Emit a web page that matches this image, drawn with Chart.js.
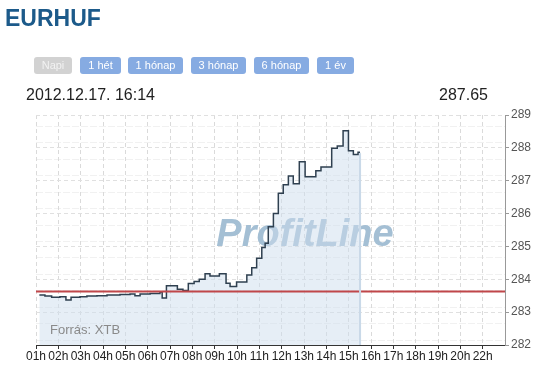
<!DOCTYPE html>
<html>
<head>
<meta charset="utf-8">
<script src="https://cdn.jsdelivr.net/npm/chart.js@4.4.1/dist/chart.umd.min.js"></script>
<style>
  html, body { margin: 0; padding: 0; background: #fff; width: 540px; height: 374px; overflow: hidden; font-family: "Liberation Sans", Arial, sans-serif; }
  #wrap { position: relative; width: 540px; height: 374px; }
  canvas { position: absolute; left: 0; top: 0; }
  .title { position: absolute; left: 5px; top: 5px; font-size: 23px; font-weight: bold; color: #1c5a8a; }
  .btn { position: absolute; top: 57px; height: 17px; line-height: 17px; font-size: 11px; color: #fff; text-align: center; border-radius: 3px; background: #86abe2; }
  .btn.off { background: #d2d2d2; color: #f2f2f2; }
  .date { position: absolute; left: 26px; top: 86px; font-size: 16px; color: #222; }
  .price { position: absolute; right: 52px; top: 86px; font-size: 16px; color: #222; }
  .src { position: absolute; left: 50px; top: 322px; font-size: 13px; color: #8a8a8a; }
</style>
</head>
<body>
<div id="wrap">
  <canvas id="c" width="540" height="374"></canvas>
  <div class="title">EURHUF</div>
  <div class="btn off" style="left:34px;width:38px;">Napi</div>
  <div class="btn" style="left:80px;width:41px;">1 hét</div>
  <div class="btn" style="left:128px;width:55px;">1 hónap</div>
  <div class="btn" style="left:191px;width:55px;">3 hónap</div>
  <div class="btn" style="left:254px;width:55px;">6 hónap</div>
  <div class="btn" style="left:317px;width:37px;">1 év</div>
  <div class="date">2012.12.17. 16:14</div>
  <div class="price">287.65</div>
  <div class="src">Forrás: XTB</div>
</div>
<script>
// ---- data ----
const hourLabels = ['01h','02h','03h','04h','05h','06h','07h','08h','09h','10h','11h','12h','13h','14h','15h','16h','17h','18h','19h','20h','22h'];
// time position in hours counted from the 01h tick
const hours = [0.15,0.40,0.70,1.07,1.34,1.57,1.97,2.28,2.73,3.18,3.76,4.21,4.43,4.66,5.11,5.55,5.65,5.84,6.33,6.58,6.82,7.08,7.31,7.57,7.79,8.21,8.51,8.69,8.98,9.44,9.66,9.88,10.11,10.26,10.40,10.63,10.85,11.07,11.30,11.52,11.79,12.05,12.53,12.76,13.24,13.49,13.75,13.99,14.21,14.42,14.51];
const rates = [283.52,283.49,283.45,283.47,283.37,283.45,283.47,283.49,283.50,283.52,283.54,283.55,283.50,283.55,283.57,283.61,283.43,283.80,283.70,283.66,283.87,283.93,284.00,284.17,284.10,284.17,283.88,283.78,283.92,284.13,284.35,284.64,284.97,285.10,285.60,286.00,286.62,286.88,287.14,286.91,287.58,287.12,287.30,287.42,287.99,288.06,288.52,287.91,287.80,287.87,287.87];
const prevClose = 283.63;
const yMin = 282, yMax = 289;

const pts = hours.map((h, i) => ({ x: h, y: rates[i] }));

const decor = {
  id: 'decor',
  beforeDraw(chart) {
    // faint textured rows of the plot background
    const { ctx, chartArea: a } = chart;
    ctx.save();
    ctx.strokeStyle = '#f1f1f1';
    ctx.lineWidth = 1;
    ctx.setLineDash([7, 2]);
    for (let y = a.top + 11; y < a.bottom - 2; y += 16.43) {
      ctx.beginPath();
      ctx.moveTo(a.left, Math.round(y) + 0.5);
      ctx.lineTo(a.right, Math.round(y) + 0.5);
      ctx.stroke();
    }
    ctx.restore();
  },
  beforeDatasetsDraw(chart) {
    const { ctx } = chart;
    ctx.save();
    ctx.font = 'italic bold 38px "Liberation Sans", Arial, sans-serif';
    ctx.fillStyle = '#a4bfd4';
    ctx.textAlign = 'center';
    ctx.textBaseline = 'alphabetic';
    ctx.fillText('ProfitLine', 305, 246);
    ctx.restore();
  },
  afterDatasetsDraw(chart) {
    const { ctx, chartArea: a, scales } = chart;
    const last = pts[pts.length - 1];
    const x = scales.x.getPixelForValue(last.x);
    const y = scales.y.getPixelForValue(last.y);
    ctx.save();
    ctx.strokeStyle = '#c9d9e8';
    ctx.lineWidth = 2;
    ctx.beginPath();
    ctx.moveTo(x, y + 1);
    ctx.lineTo(x, a.bottom);
    ctx.stroke();
    ctx.restore();
  }
};

new Chart(document.getElementById('c'), {
  type: 'line',
  data: {
    datasets: [
      {
        data: [{ x: 0, y: prevClose }, { x: 21, y: prevClose }],
        borderColor: '#c0474a',
        borderWidth: 2,
        pointRadius: 0,
        fill: false,
        order: 0
      },
      {
        data: pts,
        stepped: true,
        borderColor: '#2f4050',
        borderWidth: 1.5,
        pointRadius: 0,
        fill: 'start',
        backgroundColor: 'rgba(205,222,238,0.5)',
        order: 1
      }
    ]
  },
  options: {
    responsive: false,
    animation: false,
    layout: { padding: { left: 36, top: 115, right: 0, bottom: 0 } },
    plugins: { legend: { display: false }, tooltip: { enabled: false } },
    scales: {
      x: {
        type: 'linear',
        min: 0,
        max: 21,
        afterBuildTicks(scale) { scale.ticks = hourLabels.map((l, i) => ({ value: i })); },
        afterFit(scale) { scale.height = 29; },
        ticks: {
          callback: (v) => hourLabels[v] ?? '',
          autoSkip: false,
          maxRotation: 0,
          color: '#222',
          font: { family: '"Liberation Sans", Arial, sans-serif', size: 12 },
          padding: 0
        },
        grid: { color: '#dadada', tickColor: '#333', tickLength: 4 },
        border: { color: '#333', width: 1, dash: [4, 3] }
      },
      y: {
        position: 'right',
        min: yMin,
        max: yMax,
        afterBuildTicks(scale) {
          const t = [];
          for (let v = yMin; v <= yMax + 1e-9; v += 0.5) t.push({ value: v });
          scale.ticks = t;
        },
        afterFit(scale) { scale.width = 35; },
        ticks: {
          callback: (v) => Number.isInteger(v) ? String(v) : '',
          color: '#555',
          font: { family: '"Liberation Sans", Arial, sans-serif', size: 12 },
          padding: 2
        },
        grid: {
          color: '#e0e0e0',
          tickColor: (c) => Number.isInteger(c.tick.value) ? '#999' : '#d04040',
          tickLength: 4
        },
        border: { color: '#999', width: 1, dash: [4, 3] }
      }
    }
  },
  plugins: [decor]
});
</script>
</body>
</html>
